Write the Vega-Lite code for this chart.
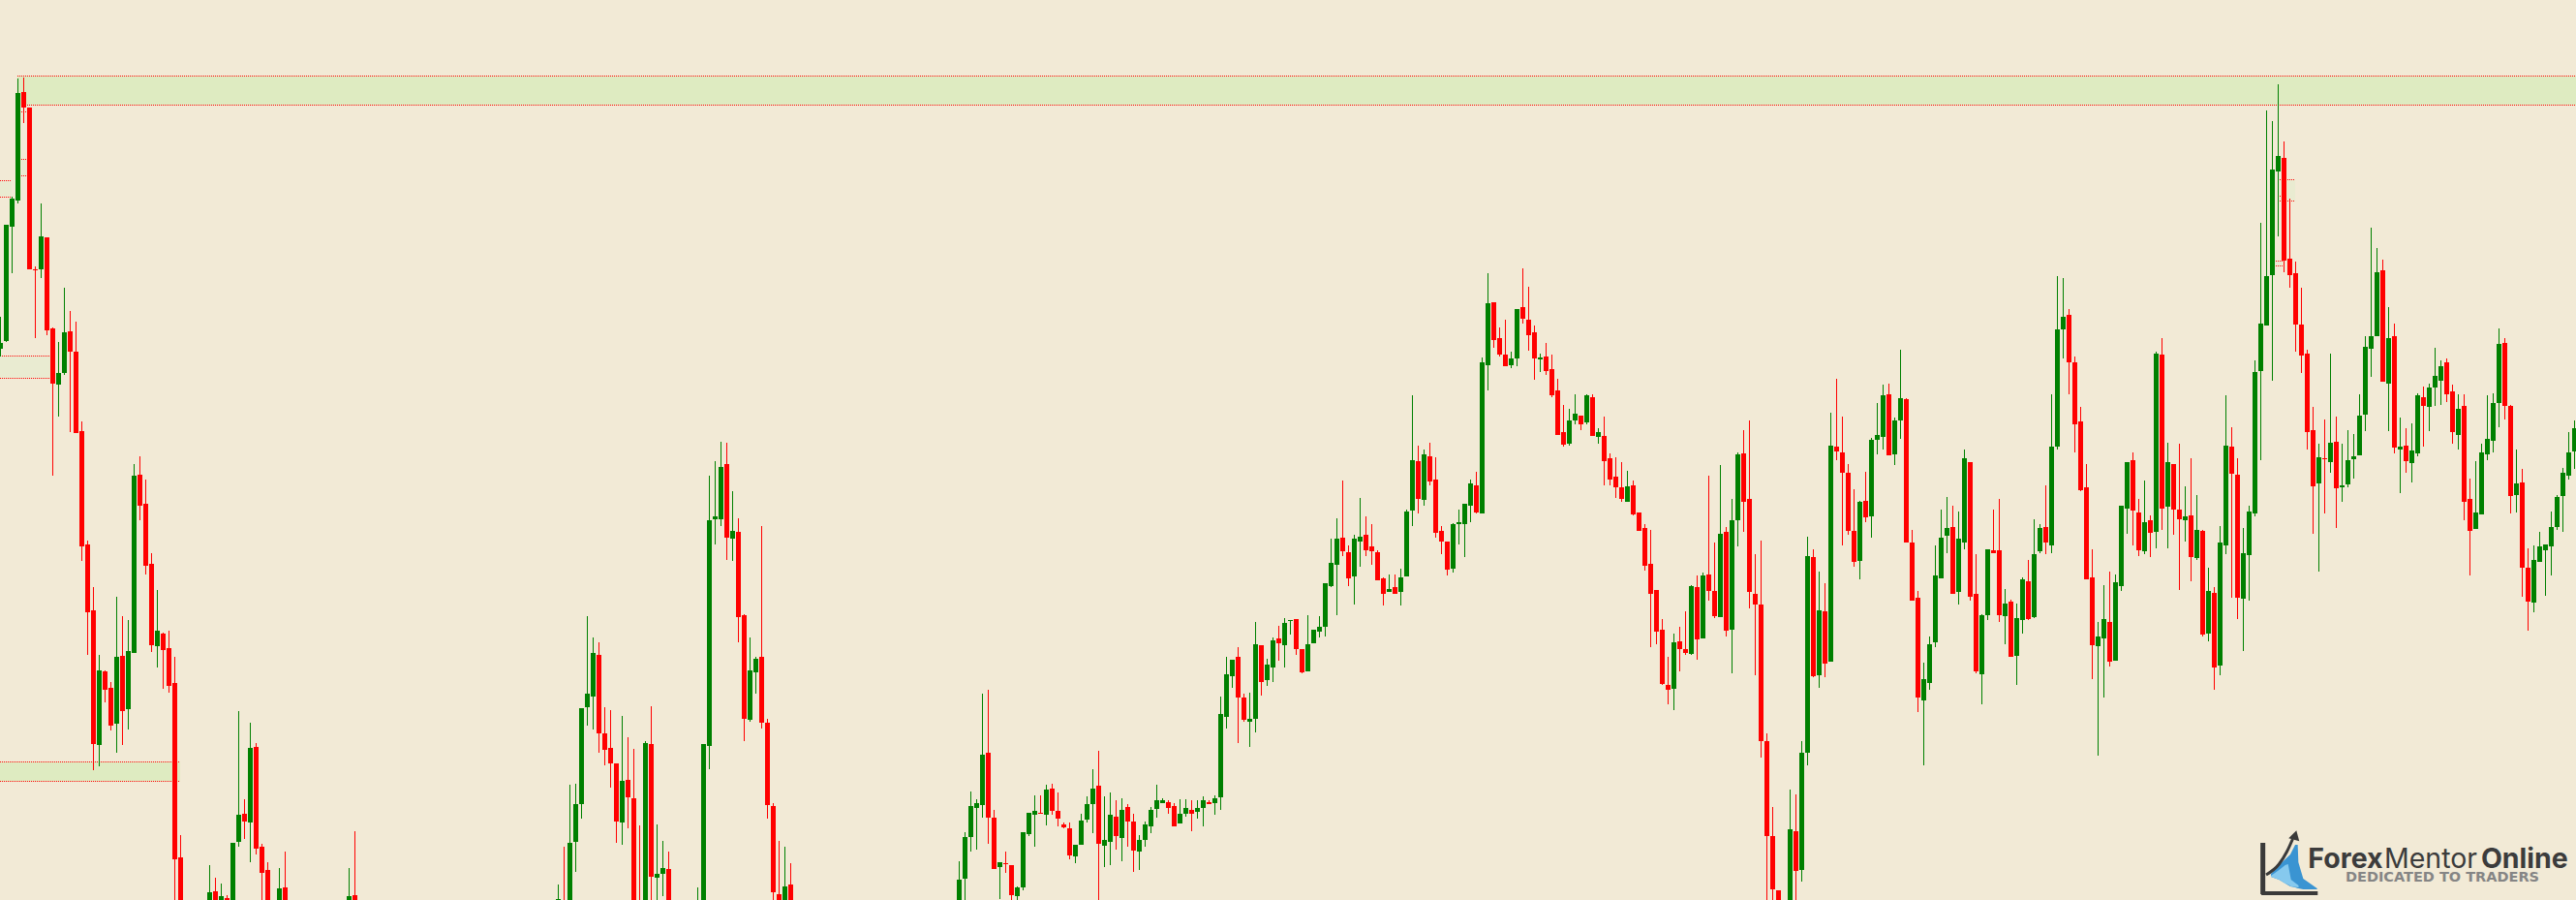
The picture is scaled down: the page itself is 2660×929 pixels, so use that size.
{"$schema":"https://vega.github.io/schema/vega-lite/v6.json","width":2660,"height":929,"padding":0,"autosize":{"type":"none"},"background":"#f2ead6","config":{"view":{"stroke":null}},
"datasets":{"candles":[
{"t":0,"dir":"up","high":327,"top":354,"bot":360,"low":368},{"t":1,"dir":"up","high":232,"top":232,"bot":352,"low":353},{"t":2,"dir":"up","high":203,"top":205,"bot":234,"low":282},{"t":3,"dir":"up","high":81,"top":96,"bot":207,"low":210},{"t":4,"dir":"down","high":80,"top":95,"bot":111,"low":127},{"t":5,"dir":"down","high":111,"top":111,"bot":278,"low":278},{"t":6,"dir":"down","high":275,"top":278,"bot":279,"low":349},{"t":7,"dir":"up","high":210,"top":244,"bot":278,"low":287},{"t":8,"dir":"down","high":245,"top":245,"bot":341,"low":346},{"t":9,"dir":"down","high":338,"top":339,"bot":396,"low":491},
{"t":10,"dir":"up","high":353,"top":385,"bot":397,"low":430},{"t":11,"dir":"up","high":297,"top":343,"bot":385,"low":387},{"t":12,"dir":"down","high":321,"top":342,"bot":363,"low":446},{"t":13,"dir":"down","high":332,"top":363,"bot":447,"low":447},{"t":14,"dir":"down","high":435,"top":445,"bot":564,"low":579},{"t":15,"dir":"down","high":558,"top":562,"bot":632,"low":676},{"t":16,"dir":"down","high":606,"top":630,"bot":768,"low":795},{"t":17,"dir":"up","high":676,"top":692,"bot":769,"low":791},{"t":18,"dir":"down","high":692,"top":693,"bot":712,"low":725},{"t":19,"dir":"down","high":704,"top":710,"bot":749,"low":754},
{"t":20,"dir":"up","high":616,"top":678,"bot":747,"low":777},{"t":21,"dir":"down","high":636,"top":677,"bot":734,"low":769},{"t":22,"dir":"up","high":640,"top":672,"bot":732,"low":753},{"t":23,"dir":"up","high":479,"top":491,"bot":674,"low":674},{"t":24,"dir":"down","high":471,"top":490,"bot":522,"low":537},{"t":25,"dir":"down","high":495,"top":520,"bot":584,"low":593},{"t":26,"dir":"down","high":571,"top":582,"bot":666,"low":673},{"t":27,"dir":"up","high":609,"top":651,"bot":667,"low":689},{"t":28,"dir":"down","high":653,"top":654,"bot":671,"low":711},{"t":29,"dir":"down","high":651,"top":669,"bot":708,"low":715},
{"t":30,"dir":"down","high":678,"top":705,"bot":887,"low":940},{"t":31,"dir":"down","high":862,"top":885,"bot":940,"low":940},{"t":36,"dir":"up","high":893,"top":921,"bot":940,"low":940},{"t":37,"dir":"down","high":906,"top":920,"bot":940,"low":940},{"t":38,"dir":"up","high":912,"top":925,"bot":940,"low":940},{"t":39,"dir":"down","high":924,"top":927,"bot":940,"low":940},{"t":40,"dir":"up","high":870,"top":870,"bot":940,"low":940},{"t":41,"dir":"up","high":734,"top":841,"bot":869,"low":874},{"t":42,"dir":"down","high":825,"top":840,"bot":848,"low":866},{"t":43,"dir":"up","high":746,"top":772,"bot":849,"low":890},
{"t":44,"dir":"down","high":767,"top":771,"bot":876,"low":882},{"t":45,"dir":"down","high":871,"top":874,"bot":901,"low":940},{"t":46,"dir":"down","high":890,"top":898,"bot":940,"low":940},{"t":48,"dir":"up","high":896,"top":917,"bot":940,"low":940},{"t":49,"dir":"down","high":879,"top":916,"bot":940,"low":940},{"t":60,"dir":"up","high":896,"top":925,"bot":940,"low":940},{"t":61,"dir":"down","high":858,"top":924,"bot":940,"low":940},
{"t":96,"dir":"up","high":913,"top":928,"bot":940,"low":940},{"t":97,"dir":"down","high":874,"top":935,"bot":940,"low":940},{"t":98,"dir":"up","high":810,"top":870,"bot":940,"low":940},{"t":99,"dir":"up","high":809,"top":830,"bot":869,"low":900},{"t":100,"dir":"up","high":731,"top":731,"bot":830,"low":845},{"t":101,"dir":"up","high":636,"top":716,"bot":730,"low":749},{"t":102,"dir":"up","high":658,"top":674,"bot":719,"low":753},{"t":103,"dir":"down","high":663,"top":676,"bot":757,"low":777},{"t":104,"dir":"down","high":730,"top":757,"bot":774,"low":790},{"t":105,"dir":"down","high":733,"top":772,"bot":788,"low":813},
{"t":106,"dir":"down","high":788,"top":788,"bot":848,"low":870},{"t":107,"dir":"up","high":739,"top":806,"bot":849,"low":872},{"t":108,"dir":"down","high":761,"top":805,"bot":823,"low":855},{"t":109,"dir":"down","high":773,"top":824,"bot":940,"low":940},{"t":110,"dir":"down","high":852,"top":935,"bot":940,"low":940},{"t":111,"dir":"up","high":765,"top":767,"bot":940,"low":940},{"t":112,"dir":"down","high":729,"top":768,"bot":905,"low":940},{"t":113,"dir":"up","high":851,"top":902,"bot":906,"low":940},{"t":114,"dir":"up","high":868,"top":896,"bot":902,"low":925},{"t":115,"dir":"down","high":879,"top":897,"bot":940,"low":940},
{"t":120,"dir":"up","high":916,"top":935,"bot":940,"low":940},{"t":121,"dir":"up","high":768,"top":768,"bot":940,"low":940},{"t":122,"dir":"up","high":491,"top":537,"bot":770,"low":794},{"t":123,"dir":"up","high":476,"top":533,"bot":536,"low":562},{"t":124,"dir":"up","high":456,"top":482,"bot":536,"low":543},{"t":125,"dir":"down","high":457,"top":479,"bot":555,"low":578},{"t":126,"dir":"up","high":507,"top":548,"bot":556,"low":579},{"t":127,"dir":"down","high":535,"top":549,"bot":637,"low":663},{"t":128,"dir":"down","high":634,"top":635,"bot":742,"low":765},{"t":129,"dir":"up","high":658,"top":692,"bot":743,"low":745},
{"t":130,"dir":"up","high":678,"top":680,"bot":694,"low":716},{"t":131,"dir":"down","high":543,"top":678,"bot":746,"low":752},{"t":132,"dir":"down","high":742,"top":746,"bot":831,"low":845},{"t":133,"dir":"down","high":829,"top":832,"bot":921,"low":940},{"t":134,"dir":"down","high":868,"top":923,"bot":940,"low":940},{"t":135,"dir":"up","high":874,"top":915,"bot":940,"low":940},{"t":136,"dir":"down","high":891,"top":913,"bot":940,"low":940},
{"t":165,"dir":"up","high":889,"top":908,"bot":940,"low":940},{"t":166,"dir":"up","high":859,"top":864,"bot":907,"low":940},{"t":167,"dir":"up","high":817,"top":832,"bot":864,"low":879},{"t":168,"dir":"up","high":825,"top":829,"bot":834,"low":877},{"t":169,"dir":"up","high":716,"top":779,"bot":831,"low":844},{"t":170,"dir":"down","high":712,"top":777,"bot":844,"low":871},{"t":171,"dir":"down","high":836,"top":844,"bot":897,"low":897},{"t":172,"dir":"up","high":890,"top":890,"bot":895,"low":928},{"t":173,"dir":"down","high":879,"top":891,"bot":892,"low":901},{"t":174,"dir":"down","high":893,"top":893,"bot":924,"low":929},
{"t":175,"dir":"up","high":915,"top":916,"bot":925,"low":940},{"t":176,"dir":"up","high":859,"top":859,"bot":916,"low":919},{"t":177,"dir":"up","high":839,"top":839,"bot":861,"low":863},{"t":178,"dir":"up","high":821,"top":837,"bot":841,"low":874},{"t":179,"dir":"down","high":821,"top":839,"bot":840,"low":840},{"t":180,"dir":"up","high":810,"top":815,"bot":841,"low":852},{"t":181,"dir":"down","high":809,"top":814,"bot":837,"low":841},{"t":182,"dir":"down","high":818,"top":837,"bot":845,"low":853},{"t":183,"dir":"down","high":849,"top":851,"bot":854,"low":855},{"t":184,"dir":"down","high":849,"top":855,"bot":883,"low":887},
{"t":185,"dir":"up","high":872,"top":872,"bot":884,"low":891},{"t":186,"dir":"up","high":840,"top":847,"bot":872,"low":872},{"t":187,"dir":"up","high":822,"top":830,"bot":846,"low":849},{"t":188,"dir":"up","high":794,"top":814,"bot":830,"low":860},{"t":189,"dir":"down","high":775,"top":811,"bot":871,"low":940},{"t":190,"dir":"up","high":822,"top":867,"bot":873,"low":895},{"t":191,"dir":"up","high":818,"top":841,"bot":869,"low":893},{"t":192,"dir":"down","high":826,"top":843,"bot":863,"low":877},{"t":193,"dir":"up","high":824,"top":836,"bot":865,"low":889},{"t":194,"dir":"down","high":830,"top":833,"bot":848,"low":874},
{"t":195,"dir":"down","high":840,"top":848,"bot":878,"low":900},{"t":196,"dir":"up","high":862,"top":867,"bot":879,"low":898},{"t":197,"dir":"up","high":848,"top":851,"bot":867,"low":874},{"t":198,"dir":"up","high":833,"top":836,"bot":853,"low":860},{"t":199,"dir":"up","high":810,"top":826,"bot":835,"low":844},{"t":200,"dir":"up","high":824,"top":826,"bot":829,"low":829},{"t":201,"dir":"down","high":826,"top":828,"bot":834,"low":840},{"t":202,"dir":"down","high":829,"top":832,"bot":853,"low":853},{"t":203,"dir":"up","high":825,"top":840,"bot":850,"low":850},{"t":204,"dir":"up","high":825,"top":834,"bot":840,"low":843},
{"t":205,"dir":"down","high":826,"top":836,"bot":840,"low":858},{"t":206,"dir":"up","high":826,"top":834,"bot":838,"low":845},{"t":207,"dir":"up","high":822,"top":826,"bot":834,"low":853},{"t":208,"dir":"down","high":826,"top":828,"bot":830,"low":830},{"t":209,"dir":"up","high":821,"top":824,"bot":829,"low":841},{"t":210,"dir":"up","high":719,"top":737,"bot":823,"low":836},{"t":211,"dir":"up","high":678,"top":696,"bot":740,"low":752},{"t":212,"dir":"up","high":681,"top":681,"bot":698,"low":710},{"t":213,"dir":"down","high":668,"top":678,"bot":720,"low":767},{"t":214,"dir":"down","high":716,"top":720,"bot":743,"low":745},
{"t":215,"dir":"up","high":715,"top":742,"bot":745,"low":771},{"t":216,"dir":"up","high":642,"top":665,"bot":742,"low":756},{"t":217,"dir":"down","high":666,"top":666,"bot":704,"low":718},{"t":218,"dir":"up","high":680,"top":686,"bot":702,"low":708},{"t":219,"dir":"up","high":658,"top":661,"bot":689,"low":704},{"t":220,"dir":"down","high":646,"top":659,"bot":664,"low":682},{"t":221,"dir":"up","high":638,"top":643,"bot":666,"low":689},{"t":222,"dir":"up","high":640,"top":640,"bot":641,"low":655},{"t":223,"dir":"down","high":639,"top":639,"bot":670,"low":676},{"t":224,"dir":"down","high":670,"top":670,"bot":694,"low":695},
{"t":225,"dir":"up","high":635,"top":665,"bot":693,"low":693},{"t":226,"dir":"up","high":650,"top":650,"bot":664,"low":664},{"t":227,"dir":"up","high":636,"top":647,"bot":652,"low":658},{"t":228,"dir":"up","high":602,"top":602,"bot":647,"low":657},{"t":229,"dir":"up","high":556,"top":581,"bot":605,"low":606},{"t":230,"dir":"up","high":535,"top":556,"bot":583,"low":635},{"t":231,"dir":"down","high":496,"top":555,"bot":569,"low":574},{"t":232,"dir":"down","high":563,"top":570,"bot":597,"low":605},{"t":233,"dir":"up","high":552,"top":556,"bot":595,"low":624},{"t":234,"dir":"up","high":514,"top":554,"bot":559,"low":585},
{"t":235,"dir":"down","high":533,"top":552,"bot":568,"low":574},{"t":236,"dir":"down","high":541,"top":564,"bot":569,"low":583},{"t":237,"dir":"down","high":568,"top":570,"bot":599,"low":599},{"t":238,"dir":"down","high":596,"top":597,"bot":613,"low":625},{"t":239,"dir":"up","high":593,"top":608,"bot":611,"low":611},{"t":240,"dir":"down","high":593,"top":606,"bot":613,"low":613},{"t":241,"dir":"up","high":587,"top":596,"bot":611,"low":625},{"t":242,"dir":"up","high":526,"top":528,"bot":595,"low":595},{"t":243,"dir":"up","high":408,"top":475,"bot":527,"low":543},{"t":244,"dir":"down","high":460,"top":476,"bot":515,"low":530},
{"t":245,"dir":"up","high":464,"top":469,"bot":516,"low":522},{"t":246,"dir":"down","high":457,"top":471,"bot":497,"low":501},{"t":247,"dir":"down","high":472,"top":495,"bot":550,"low":555},{"t":248,"dir":"down","high":543,"top":548,"bot":559,"low":572},{"t":249,"dir":"down","high":559,"top":559,"bot":588,"low":594},{"t":250,"dir":"up","high":540,"top":541,"bot":587,"low":591},{"t":251,"dir":"up","high":526,"top":539,"bot":541,"low":562},{"t":252,"dir":"up","high":520,"top":520,"bot":541,"low":575},{"t":253,"dir":"up","high":495,"top":499,"bot":522,"low":539},{"t":254,"dir":"down","high":487,"top":501,"bot":529,"low":530},
{"t":255,"dir":"up","high":369,"top":374,"bot":530,"low":530},{"t":256,"dir":"up","high":282,"top":313,"bot":377,"low":403},{"t":257,"dir":"down","high":312,"top":312,"bot":351,"low":359},{"t":258,"dir":"down","high":338,"top":349,"bot":366,"low":368},{"t":259,"dir":"down","high":330,"top":366,"bot":378,"low":378},{"t":260,"dir":"up","high":363,"top":370,"bot":377,"low":380},{"t":261,"dir":"up","high":319,"top":319,"bot":370,"low":378},{"t":262,"dir":"down","high":277,"top":317,"bot":329,"low":334},{"t":263,"dir":"down","high":296,"top":330,"bot":346,"low":362},{"t":264,"dir":"down","high":336,"top":343,"bot":370,"low":392},
{"t":265,"dir":"up","high":365,"top":369,"bot":371,"low":384},{"t":266,"dir":"down","high":354,"top":368,"bot":383,"low":387},{"t":267,"dir":"down","high":366,"top":381,"bot":408,"low":410},{"t":268,"dir":"down","high":391,"top":403,"bot":449,"low":449},{"t":269,"dir":"down","high":418,"top":446,"bot":459,"low":461},{"t":270,"dir":"up","high":422,"top":434,"bot":458,"low":460},{"t":271,"dir":"up","high":407,"top":427,"bot":434,"low":438},{"t":272,"dir":"down","high":429,"top":429,"bot":438,"low":444},{"t":273,"dir":"up","high":407,"top":408,"bot":436,"low":438},{"t":274,"dir":"down","high":407,"top":410,"bot":450,"low":450},
{"t":275,"dir":"up","high":442,"top":446,"bot":451,"low":458},{"t":276,"dir":"down","high":430,"top":450,"bot":476,"low":501},{"t":277,"dir":"down","high":468,"top":473,"bot":495,"low":501},{"t":278,"dir":"down","high":472,"top":492,"bot":503,"low":514},{"t":279,"dir":"down","high":477,"top":503,"bot":515,"low":518},{"t":280,"dir":"up","high":486,"top":502,"bot":518,"low":518},{"t":281,"dir":"down","high":496,"top":501,"bot":531,"low":532},{"t":282,"dir":"down","high":529,"top":529,"bot":548,"low":548},{"t":283,"dir":"down","high":541,"top":545,"bot":584,"low":589},{"t":284,"dir":"down","high":547,"top":582,"bot":613,"low":668},
{"t":285,"dir":"down","high":609,"top":609,"bot":652,"low":665},{"t":286,"dir":"down","high":639,"top":650,"bot":706,"low":707},{"t":287,"dir":"down","high":678,"top":707,"bot":712,"low":727},{"t":288,"dir":"up","high":654,"top":663,"bot":711,"low":733},{"t":289,"dir":"down","high":647,"top":662,"bot":670,"low":693},{"t":290,"dir":"down","high":631,"top":670,"bot":674,"low":676},{"t":291,"dir":"up","high":604,"top":605,"bot":675,"low":676},{"t":292,"dir":"down","high":594,"top":606,"bot":660,"low":681},{"t":293,"dir":"up","high":591,"top":594,"bot":659,"low":659},{"t":294,"dir":"down","high":491,"top":593,"bot":610,"low":620},
{"t":295,"dir":"down","high":560,"top":610,"bot":636,"low":638},{"t":296,"dir":"up","high":480,"top":551,"bot":637,"low":637},{"t":297,"dir":"down","high":544,"top":549,"bot":651,"low":657},{"t":298,"dir":"up","high":515,"top":537,"bot":650,"low":695},{"t":299,"dir":"up","high":467,"top":469,"bot":537,"low":564},{"t":300,"dir":"down","high":444,"top":468,"bot":518,"low":549},{"t":301,"dir":"down","high":434,"top":515,"bot":611,"low":628},{"t":302,"dir":"down","high":572,"top":613,"bot":624,"low":697},{"t":303,"dir":"down","high":558,"top":624,"bot":765,"low":782},{"t":304,"dir":"down","high":757,"top":765,"bot":863,"low":940},
{"t":305,"dir":"down","high":833,"top":863,"bot":918,"low":940},{"t":306,"dir":"down","high":919,"top":919,"bot":940,"low":940},{"t":308,"dir":"up","high":815,"top":856,"bot":940,"low":940},{"t":309,"dir":"down","high":820,"top":858,"bot":899,"low":940},{"t":310,"dir":"up","high":765,"top":777,"bot":898,"low":910},{"t":311,"dir":"up","high":554,"top":574,"bot":777,"low":790},{"t":312,"dir":"down","high":567,"top":575,"bot":698,"low":699},{"t":313,"dir":"up","high":590,"top":630,"bot":697,"low":710},{"t":314,"dir":"down","high":602,"top":631,"bot":685,"low":699},{"t":315,"dir":"up","high":426,"top":460,"bot":683,"low":683},
{"t":316,"dir":"down","high":391,"top":461,"bot":466,"low":475},{"t":317,"dir":"down","high":430,"top":467,"bot":488,"low":563},{"t":318,"dir":"down","high":479,"top":488,"bot":548,"low":552},{"t":319,"dir":"down","high":505,"top":548,"bot":580,"low":585},{"t":320,"dir":"up","high":517,"top":518,"bot":579,"low":598},{"t":321,"dir":"down","high":487,"top":517,"bot":534,"low":539},{"t":322,"dir":"up","high":452,"top":454,"bot":533,"low":555},{"t":323,"dir":"up","high":416,"top":449,"bot":454,"low":469},{"t":324,"dir":"up","high":397,"top":408,"bot":451,"low":464},{"t":325,"dir":"down","high":396,"top":407,"bot":470,"low":470},
{"t":326,"dir":"up","high":431,"top":434,"bot":469,"low":480},{"t":327,"dir":"up","high":361,"top":411,"bot":434,"low":453},{"t":328,"dir":"down","high":411,"top":412,"bot":560,"low":560},{"t":329,"dir":"down","high":547,"top":560,"bot":620,"low":620},{"t":330,"dir":"down","high":610,"top":617,"bot":720,"low":735},{"t":331,"dir":"up","high":684,"top":701,"bot":723,"low":790},{"t":332,"dir":"up","high":657,"top":665,"bot":705,"low":712},{"t":333,"dir":"up","high":563,"top":594,"bot":663,"low":668},{"t":334,"dir":"up","high":526,"top":555,"bot":597,"low":597},{"t":335,"dir":"up","high":513,"top":545,"bot":553,"low":571},
{"t":336,"dir":"down","high":522,"top":544,"bot":613,"low":613},{"t":337,"dir":"up","high":528,"top":556,"bot":611,"low":624},{"t":338,"dir":"up","high":464,"top":473,"bot":560,"low":567},{"t":339,"dir":"down","high":477,"top":477,"bot":616,"low":620},{"t":340,"dir":"down","high":572,"top":613,"bot":693,"low":695},{"t":341,"dir":"up","high":634,"top":635,"bot":696,"low":727},{"t":342,"dir":"up","high":567,"top":567,"bot":635,"low":640},{"t":343,"dir":"down","high":526,"top":568,"bot":571,"low":571},{"t":344,"dir":"down","high":515,"top":568,"bot":635,"low":642},{"t":345,"dir":"up","high":608,"top":623,"bot":636,"low":665},
{"t":346,"dir":"down","high":619,"top":621,"bot":678,"low":678},{"t":347,"dir":"up","high":623,"top":638,"bot":677,"low":707},{"t":348,"dir":"up","high":596,"top":598,"bot":640,"low":654},{"t":349,"dir":"down","high":578,"top":600,"bot":639,"low":640},{"t":350,"dir":"up","high":536,"top":572,"bot":637,"low":638},{"t":351,"dir":"up","high":541,"top":545,"bot":569,"low":571},{"t":352,"dir":"down","high":501,"top":544,"bot":560,"low":572},{"t":353,"dir":"up","high":407,"top":461,"bot":563,"low":571},{"t":354,"dir":"up","high":285,"top":340,"bot":461,"low":464},{"t":355,"dir":"up","high":287,"top":327,"bot":340,"low":370},
{"t":356,"dir":"down","high":319,"top":325,"bot":374,"low":407},{"t":357,"dir":"down","high":368,"top":374,"bot":438,"low":467},{"t":358,"dir":"down","high":420,"top":435,"bot":506,"low":507},{"t":359,"dir":"down","high":479,"top":503,"bot":598,"low":598},{"t":360,"dir":"down","high":567,"top":596,"bot":666,"low":701},{"t":361,"dir":"up","high":642,"top":657,"bot":667,"low":780},{"t":362,"dir":"up","high":604,"top":639,"bot":659,"low":720},{"t":363,"dir":"down","high":590,"top":642,"bot":683,"low":688},{"t":364,"dir":"up","high":593,"top":601,"bot":682,"low":682},{"t":365,"dir":"up","high":522,"top":522,"bot":605,"low":610},
{"t":366,"dir":"up","high":477,"top":477,"bot":525,"low":551},{"t":367,"dir":"down","high":467,"top":475,"bot":527,"low":563},{"t":368,"dir":"down","high":515,"top":529,"bot":568,"low":574},{"t":369,"dir":"up","high":496,"top":539,"bot":569,"low":572},{"t":370,"dir":"down","high":532,"top":537,"bot":550,"low":575},{"t":371,"dir":"up","high":363,"top":365,"bot":549,"low":566},{"t":372,"dir":"down","high":349,"top":366,"bot":525,"low":547},{"t":373,"dir":"up","high":457,"top":477,"bot":523,"low":566},{"t":374,"dir":"down","high":479,"top":479,"bot":526,"low":552},{"t":375,"dir":"down","high":458,"top":526,"bot":536,"low":609},
{"t":376,"dir":"up","high":502,"top":533,"bot":537,"low":559},{"t":377,"dir":"down","high":473,"top":532,"bot":575,"low":600},{"t":378,"dir":"up","high":511,"top":547,"bot":576,"low":578},{"t":379,"dir":"down","high":547,"top":548,"bot":655,"low":657},{"t":380,"dir":"up","high":586,"top":610,"bot":654,"low":662},{"t":381,"dir":"down","high":606,"top":612,"bot":689,"low":712},{"t":382,"dir":"up","high":543,"top":560,"bot":687,"low":697},{"t":383,"dir":"up","high":408,"top":460,"bot":563,"low":572},{"t":384,"dir":"down","high":441,"top":461,"bot":489,"low":617},{"t":385,"dir":"down","high":473,"top":490,"bot":617,"low":639},
{"t":386,"dir":"up","high":545,"top":571,"bot":618,"low":672},{"t":387,"dir":"up","high":522,"top":528,"bot":573,"low":620},{"t":388,"dir":"up","high":372,"top":384,"bot":530,"low":533},{"t":389,"dir":"up","high":230,"top":334,"bot":383,"low":475},{"t":390,"dir":"up","high":114,"top":285,"bot":336,"low":336},{"t":391,"dir":"up","high":125,"top":175,"bot":284,"low":393},{"t":392,"dir":"up","high":87,"top":161,"bot":177,"low":244},{"t":393,"dir":"down","high":146,"top":163,"bot":269,"low":281},{"t":394,"dir":"down","high":205,"top":267,"bot":284,"low":297},{"t":395,"dir":"down","high":270,"top":282,"bot":335,"low":363},
{"t":396,"dir":"down","high":297,"top":335,"bot":367,"low":385},{"t":397,"dir":"down","high":361,"top":365,"bot":446,"low":464},{"t":398,"dir":"down","high":420,"top":444,"bot":502,"low":551},{"t":399,"dir":"up","high":458,"top":472,"bot":499,"low":590},{"t":400,"dir":"down","high":433,"top":473,"bot":474,"low":530},{"t":401,"dir":"up","high":365,"top":457,"bot":477,"low":488},{"t":402,"dir":"down","high":430,"top":456,"bot":504,"low":545},{"t":403,"dir":"up","high":458,"top":501,"bot":503,"low":518},{"t":404,"dir":"up","high":444,"top":475,"bot":500,"low":503},{"t":405,"dir":"up","high":448,"top":471,"bot":474,"low":494},
{"t":406,"dir":"up","high":407,"top":429,"bot":470,"low":470},{"t":407,"dir":"up","high":347,"top":358,"bot":428,"low":445},{"t":408,"dir":"up","high":235,"top":347,"bot":360,"low":389},{"t":409,"dir":"up","high":256,"top":281,"bot":347,"low":347},{"t":410,"dir":"down","high":268,"top":279,"bot":394,"low":394},{"t":411,"dir":"up","high":317,"top":349,"bot":396,"low":445},{"t":412,"dir":"down","high":334,"top":347,"bot":462,"low":468},{"t":413,"dir":"up","high":431,"top":461,"bot":464,"low":509},{"t":414,"dir":"down","high":442,"top":460,"bot":476,"low":488},{"t":415,"dir":"up","high":437,"top":465,"bot":478,"low":498},
{"t":416,"dir":"up","high":406,"top":408,"bot":468,"low":471},{"t":417,"dir":"down","high":399,"top":410,"bot":419,"low":461},{"t":418,"dir":"up","high":396,"top":400,"bot":420,"low":445},{"t":419,"dir":"up","high":359,"top":388,"bot":400,"low":419},{"t":420,"dir":"up","high":372,"top":378,"bot":393,"low":418},{"t":421,"dir":"down","high":370,"top":374,"bot":407,"low":415},{"t":422,"dir":"down","high":397,"top":404,"bot":446,"low":458},{"t":423,"dir":"up","high":407,"top":422,"bot":449,"low":464},{"t":424,"dir":"down","high":407,"top":419,"bot":518,"low":537},{"t":425,"dir":"down","high":494,"top":515,"bot":548,"low":594},
{"t":426,"dir":"up","high":476,"top":529,"bot":546,"low":546},{"t":427,"dir":"up","high":458,"top":467,"bot":531,"low":531},{"t":428,"dir":"up","high":408,"top":453,"bot":469,"low":475},{"t":429,"dir":"up","high":406,"top":416,"bot":455,"low":467},{"t":430,"dir":"up","high":339,"top":355,"bot":416,"low":441},{"t":431,"dir":"down","high":349,"top":354,"bot":419,"low":433},{"t":432,"dir":"down","high":418,"top":419,"bot":512,"low":530},{"t":433,"dir":"up","high":464,"top":499,"bot":511,"low":529},{"t":434,"dir":"down","high":484,"top":498,"bot":586,"low":616},{"t":435,"dir":"down","high":566,"top":586,"bot":621,"low":651},
{"t":436,"dir":"up","high":563,"top":578,"bot":622,"low":632},{"t":437,"dir":"up","high":549,"top":564,"bot":580,"low":580},{"t":438,"dir":"up","high":562,"top":562,"bot":568,"low":615},{"t":439,"dir":"up","high":528,"top":544,"bot":564,"low":594},{"t":440,"dir":"up","high":511,"top":513,"bot":544,"low":547},{"t":441,"dir":"up","high":483,"top":488,"bot":512,"low":549},{"t":442,"dir":"up","high":446,"top":467,"bot":491,"low":495},{"t":443,"dir":"up","high":434,"top":442,"bot":466,"low":484}
],
"zones":[{"x0":2.92,"x1":443.25,"y0":78.5,"y1":108.5,"kind":"strong"},{"x0":-0.09,"x1":30.92,"y0":786.5,"y1":806.5,"kind":"strong"},{"x0":3.58,"x1":5.08,"y0":164.5,"y1":181.5,"kind":"faint"},{"x0":-0.09,"x1":1.92,"y0":186.5,"y1":203.5,"kind":"faint"},{"x0":-0.09,"x1":8.58,"y0":367.5,"y1":390.5,"kind":"faint"},{"x0":392.25,"x1":394.92,"y0":185.5,"y1":207.5,"kind":"faint"},{"x0":391.58,"x1":392.75,"y0":269.5,"y1":274.5,"kind":"faint"}],
"levels":[{"x0":2.92,"x1":443.25,"y":78.5},{"x0":2.92,"x1":443.25,"y":108.5},{"x0":-0.09,"x1":30.92,"y":786.5},{"x0":-0.09,"x1":30.92,"y":806.5},{"x0":3.58,"x1":5.08,"y":164.5},{"x0":3.58,"x1":5.08,"y":181.5},{"x0":3.58,"x1":4.58,"y":115.5},{"x0":-0.09,"x1":1.92,"y":186.5},{"x0":-0.09,"x1":1.92,"y":203.5},{"x0":-0.09,"x1":8.58,"y":367.5},{"x0":-0.09,"x1":8.58,"y":390.5},{"x0":392.25,"x1":394.92,"y":185.5},{"x0":392.25,"x1":394.92,"y":207.5},{"x0":392.25,"x1":392.75,"y":202.5},{"x0":391.58,"x1":392.75,"y":269.5},{"x0":391.58,"x1":392.75,"y":274.5}],
"logoDark":[{"t":390.75,"y":902,"y2":905},{"t":392.14,"y":893,"y2":908},{"t":394.08,"y":882,"y2":915},{"t":394.92,"y":872,"y2":916},{"t":395.36,"y":872,"y2":917},{"t":395.47,"y":890,"y2":917},{"t":396.31,"y":907,"y2":918},{"t":398.69,"y":917,"y2":918}],
"logoLight":[{"t":390.75,"y":904,"y2":905},{"t":392.14,"y":898,"y2":908},{"t":393.2,"y":893,"y2":912},{"t":393.7,"y":892,"y2":913},{"t":394.2,"y":908,"y2":915},{"t":395.5,"y":914,"y2":916}],
"logoArrow":[{"t":389.92,"y":903},{"t":392.14,"y":892},{"t":393.5,"y":879},{"t":394.5,"y":866}],
"logoHead":[{"t":394.92,"y":862}],
"logoAxisV":[{"t":389.36,"y":870,"y2":923}],
"logoAxisH":[{"t":389.1,"x2":398.8,"y":922}],
"logoBold":[{"t":397.14,"y":896,"label":"Forex"},{"t":426.9,"y":896,"label":"Online"}],
"logoThin":[{"t":410.25,"y":896,"label":"Mentor"}],
"logoSub":[{"t":420.25,"y":910,"label":"DEDICATED TO TRADERS"}]},
"encoding":{"x":{"field":"t","type":"quantitative","scale":{"domain":[-0.08333,443.25],"nice":false,"zero":false,"padding":0},"axis":null},"y":{"field":"y","type":"quantitative","scale":{"domain":[0,929],"reverse":true,"nice":false,"zero":false},"axis":null}},
"layer":[
{"data":{"name":"zones"},"transform":[{"filter":"datum.kind==='strong'"}],"mark":{"type":"rect","fill":"#deebc1"},"encoding":{"x":{"field":"x0","type":"quantitative"},"x2":{"field":"x1"},"y":{"field":"y0","type":"quantitative"},"y2":{"field":"y1"}}},
{"data":{"name":"zones"},"transform":[{"filter":"datum.kind==='faint'"}],"mark":{"type":"rect","fill":"#e9ebd1"},"encoding":{"x":{"field":"x0","type":"quantitative"},"x2":{"field":"x1"},"y":{"field":"y0","type":"quantitative"},"y2":{"field":"y1"}}},
{"data":{"name":"levels"},"mark":{"type":"rule","color":"#ff0000","strokeWidth":1,"strokeDash":[1,1]},"encoding":{"x":{"field":"x0","type":"quantitative"},"x2":{"field":"x1"},"y":{"field":"y","type":"quantitative"}}},
{"data":{"name":"candles"},"mark":{"type":"rule","strokeWidth":1,"clip":true},"encoding":{"y":{"field":"high","type":"quantitative"},"y2":{"field":"low"},"color":{"field":"dir","type":"nominal","legend":null,"scale":{"domain":["up","down"],"range":["#008000","#ff0000"]}}}},
{"data":{"name":"candles"},"mark":{"type":"bar","size":5,"clip":true},"encoding":{"y":{"field":"top","type":"quantitative"},"y2":{"field":"bot"},"color":{"field":"dir","type":"nominal","legend":null}}},
{"data":{"name":"logoDark"},"mark":{"type":"area","color":"#3a94d2","clip":true},"encoding":{"y2":{"field":"y2"}}},
{"data":{"name":"logoLight"},"mark":{"type":"area","color":"#86c9ee","clip":true},"encoding":{"y2":{"field":"y2"}}},
{"data":{"name":"logoArrow"},"mark":{"type":"line","color":"#3a3a3a","strokeWidth":3,"interpolate":"monotone"}},
{"data":{"name":"logoHead"},"mark":{"type":"point","shape":"triangle-up","filled":true,"color":"#3a3a3a","opacity":1,"size":130,"angle":15}},
{"data":{"name":"logoAxisV"},"mark":{"type":"rule","color":"#3a3a3a","strokeWidth":5},"encoding":{"y2":{"field":"y2"}}},
{"data":{"name":"logoAxisH"},"mark":{"type":"rule","color":"#3a3a3a","strokeWidth":4},"encoding":{"x2":{"field":"x2"}}},
{"data":{"name":"logoBold"},"mark":{"type":"text","font":"Inter","fontWeight":"bold","fontSize":28.5,"align":"left","baseline":"alphabetic","color":"#3c3c3c"},"encoding":{"text":{"field":"label"}}},
{"data":{"name":"logoThin"},"mark":{"type":"text","font":"Inter","fontWeight":"normal","fontSize":28.5,"align":"left","baseline":"alphabetic","color":"#3c3c3c"},"encoding":{"text":{"field":"label"}}},
{"data":{"name":"logoSub"},"mark":{"type":"text","font":"DejaVu Sans","fontWeight":"bold","fontSize":14.5,"align":"center","baseline":"alphabetic","color":"#858585"},"encoding":{"text":{"field":"label"}}}
]}
